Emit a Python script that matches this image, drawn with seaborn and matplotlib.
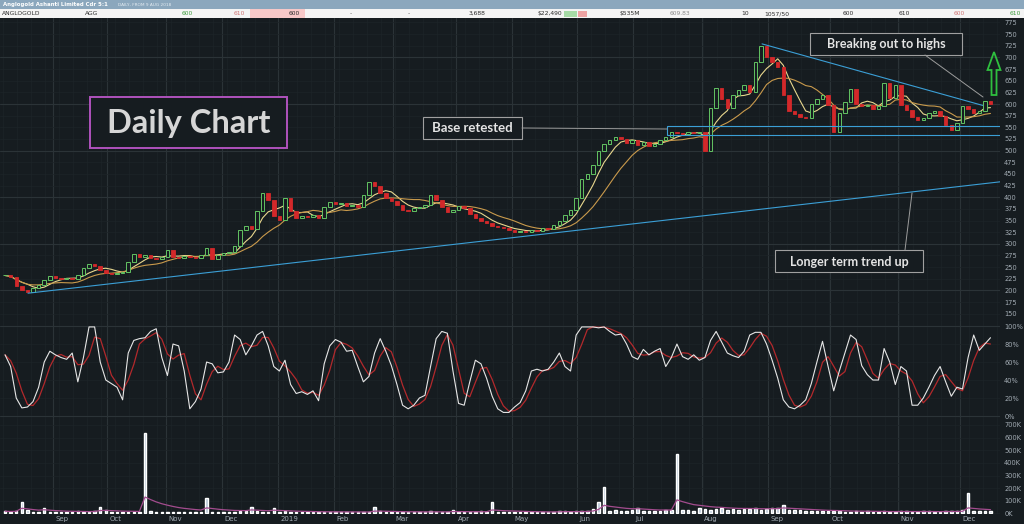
import numpy as np
import pandas as pd
import matplotlib
matplotlib.use("Agg")
import matplotlib.pyplot as plt
import seaborn as sns
from matplotlib.patches import Rectangle, Polygon
from matplotlib.lines import Line2D

# AGG (Anglogold Ashanti CDI), one value per 2 traded days from 9 Aug 2018
close = [232, 228, 210, 200, 196, 205, 212, 222, 230, 226,
         224, 227, 224, 232, 248, 256, 252, 244, 238, 236,
         238, 240, 262, 278, 272, 276, 270, 268, 272, 286,
         272, 270, 274, 272, 270, 276, 292, 268, 276, 280,
         282, 296, 330, 338, 332, 370, 408, 395, 360, 352,
         398, 370, 356, 360, 358, 362, 356, 378, 390, 386,
         388, 382, 384, 380, 405, 432, 425, 410, 398, 392,
         384, 372, 370, 376, 380, 384, 404, 395, 378, 368,
         372, 382, 376, 365, 355, 350, 345, 338, 336, 334,
         330, 326, 328, 325, 330, 328, 334, 332, 340, 348,
         362, 372, 398, 440, 450, 470, 500, 515, 522, 530,
         525, 516, 522, 512, 518, 510, 515, 522, 530, 540,
         538, 535, 540, 538, 540, 500, 592, 635, 610, 592,
         620, 630, 640, 625, 690, 725, 700, 690, 680, 620,
         585, 578, 572, 570, 600, 610, 620, 598, 540, 580,
         605, 632, 600, 595, 598, 590, 596, 645, 612, 640,
         598, 588, 572, 565, 570, 580, 585, 575, 555, 545,
         560, 596, 590, 580, 585, 606, 600]

# slow stochastic %K (white line), percent
stoch_k = [68, 55, 20, 9, 10, 16, 32, 60, 72, 68,
           65, 63, 70, 38, 65, 99, 99, 60, 40, 36,
           32, 18, 70, 84, 86, 87, 94, 97, 65, 45,
           80, 78, 50, 8, 16, 30, 60, 58, 48, 49,
           60, 90, 85, 68, 78, 90, 94, 78, 55, 50,
           62, 35, 25, 27, 24, 28, 17, 58, 78, 85,
           82, 72, 73, 55, 38, 44, 70, 86, 72, 56,
           35, 12, 8, 12, 20, 23, 55, 86, 94, 92,
           50, 14, 12, 38, 62, 58, 42, 22, 8, 4,
           4, 10, 15, 28, 50, 52, 50, 52, 60, 70,
           55, 50, 90, 99, 99, 99, 98, 99, 94, 90,
           91, 80, 66, 63, 74, 68, 72, 75, 55, 65,
           80, 66, 63, 68, 62, 65, 84, 94, 82, 70,
           67, 65, 72, 90, 93, 93, 80, 62, 42, 18,
           10, 8, 12, 18, 36, 60, 83, 55, 28, 50,
           70, 90, 85, 56, 46, 40, 40, 75, 60, 35,
           55, 50, 12, 12, 20, 32, 45, 55, 38, 22,
           32, 30, 65, 90, 73, 80, 87]

# volume in thousands
volume_k = [18, 14, 20, 90, 25, 15, 12, 40, 14, 10,
            12, 10, 14, 16, 12, 10, 20, 55, 30, 14,
            12, 10, 15, 12, 14, 640, 18, 10, 12, 15,
            10, 8, 12, 14, 10, 12, 120, 15, 12, 10,
            14, 12, 18, 20, 55, 16, 14, 12, 45, 14,
            16, 12, 10, 14, 12, 10, 8, 10, 12, 14,
            10, 12, 8, 10, 12, 14, 50, 18, 12, 10,
            8, 10, 12, 14, 12, 10, 16, 12, 14, 10,
            30, 14, 12, 10, 12, 16, 14, 90, 12, 10,
            14, 12, 10, 8, 12, 10, 8, 10, 12, 18,
            20, 14, 16, 20, 18, 35, 90, 210, 20, 25,
            22, 18, 24, 40, 22, 16, 20, 18, 30, 24,
            470, 30, 26, 20, 40, 35, 30, 34, 40, 28,
            32, 30, 38, 36, 40, 30, 36, 42, 40, 70,
            30, 24, 26, 20, 18, 22, 18, 16, 20, 18,
            14, 12, 16, 12, 18, 14, 12, 16, 14, 12,
            22, 16, 12, 14, 18, 16, 14, 12, 20, 16,
            18, 24, 165, 20, 18, 22, 16]

# month starts, in bar units (the CDI does not trade every day)
month_labels = ["Sep", "Oct", "Nov", "Dec", "2019", "Feb", "Mar", "Apr",
                "May", "Jun", "Jul", "Aug", "Sep", "Oct", "Nov", "Dec"]
month_pos = [8.6, 18.2, 28.8, 38.8, 48.8, 58.8, 69.3, 80.5,
             90.5, 102.1, 112.1, 124.5, 136.3, 147.3, 159.5, 170.5]
price_ticks = list(range(150, 776, 25))
stoch_ticks = [0, 20, 40, 60, 80, 100]
vol_ticks = [0, 100, 200, 300, 400, 500, 600, 700]

BG = "#161c20"
GRID_MAJ = "#2b3337"
GRID_MIN = "#1d2428"
LBL = "#a3acb4"
BLUE = "#3b9fd6"

sns.set_theme(style="dark", rc={"axes.facecolor": BG, "figure.facecolor": BG,
                                "axes.edgecolor": BG, "text.color": "#e0e0e0"})
plt.rcParams["font.family"] = ["DejaVu Sans"]

W, H = 1024, 524
fx = lambda x: x / W
fy = lambda y: 1 - y / H

fig = plt.figure(figsize=(10.24, 5.24), dpi=100)
def panel(top, bottom):
    return fig.add_axes([0, 1 - bottom / H, 1000 / W, (bottom - top) / H])
ax_p = panel(17, 320)
ax_s = panel(320, 418)
ax_v = panel(418, 514)

n = len(close)
xs = np.arange(n)
week_pos = np.arange(-0.4, 178, 2.5)

for ax in (ax_p, ax_s, ax_v):
    ax.set_xlim(-0.9, 177.7)
    ax.set_xticks([])
    for s in ax.spines.values():
        s.set_visible(False)
    ax.yaxis.tick_right()
    ax.tick_params(axis="y", length=0, pad=3, labelsize=4.8, labelcolor=LBL)
    for p in week_pos:
        ax.axvline(p, color=GRID_MIN, lw=0.5, zorder=0)
    for p in month_pos:
        ax.axvline(p, color=GRID_MAJ, lw=0.8, zorder=0)

# price panel
ax_p.set_ylim(136.5, 786.7)
ax_p.set_yticks(price_ticks)
ax_p.set_yticklabels([str(t) for t in price_ticks])
for t in price_ticks:
    ax_p.axhline(t, color=GRID_MAJ if t % 100 == 0 else GRID_MIN,
                 lw=0.8 if t % 100 == 0 else 0.5, zorder=0)

c = np.array(close, float)
o = np.r_[c[0], c[:-1]]
up = c >= o
ax_p.bar(xs[up], (c - o)[up], bottom=o[up], width=0.62, facecolor=BG,
         edgecolor="#63c463", linewidth=0.7, zorder=3)
ax_p.bar(xs[~up], (c - o)[~up], bottom=o[~up], width=0.62, color="#d3282a",
         edgecolor="#d3282a", linewidth=0.6, zorder=3)

s = pd.Series(c)
sns.lineplot(x=xs, y=s.rolling(5, min_periods=1).mean().values, ax=ax_p,
             color="#e8d78e", lw=0.8, zorder=2)
sns.lineplot(x=xs, y=s.rolling(11, min_periods=1).mean().values, ax=ax_p,
             color="#c99a4c", lw=0.8, zorder=2)

# trend lines and base zone
ax_p.plot([4.1, 177.7], [194, 433], color=BLUE, lw=0.8, zorder=4)
ax_p.plot([135.2, 174.6], [729, 597], color=BLUE, lw=0.8, zorder=4)
ax_p.add_patch(Rectangle((118.2, 533), 59.6, 20, facecolor="none",
                         edgecolor=BLUE, lw=0.8, zorder=4))

# stochastic panel
ax_s.set_ylim(-2.2, 106.7)
ax_s.set_yticks(stoch_ticks)
ax_s.set_yticklabels([f"{t}%" for t in stoch_ticks])
for t in stoch_ticks:
    ax_s.axhline(t, color=GRID_MAJ if t in (0, 100) else GRID_MIN,
                 lw=0.8 if t in (0, 100) else 0.5, zorder=0)
k = pd.Series(stoch_k, dtype=float)
sns.lineplot(x=xs, y=k.rolling(3, min_periods=1).mean().values, ax=ax_s,
             color="#b3292c", lw=0.9)
sns.lineplot(x=xs, y=k.values, ax=ax_s, color="#e6e6e6", lw=0.8)

# volume panel
ax_v.set_ylim(-4, 755)
ax_v.set_yticks(vol_ticks)
ax_v.set_yticklabels([f"{t}K" for t in vol_ticks])
for t in vol_ticks:
    ax_v.axhline(t, color=GRID_MIN, lw=0.5, zorder=0)
ax_v.bar(xs, volume_k, width=0.45, color="#b9c8d8", zorder=3)
sns.lineplot(x=xs, y=pd.Series(volume_k, dtype=float).ewm(span=10).mean().values,
             ax=ax_v, color="#a34c8e", lw=0.9, zorder=4)
for p, lab in zip(month_pos, month_labels):
    ax_v.text(p + 0.4, -0.052, lab, transform=ax_v.get_xaxis_transform(),
              ha="left", va="center", fontsize=5, color=LBL)
for ax in (ax_p, ax_s, ax_v):
    ax.set_xlabel("")
    ax.set_ylabel("")

# header strip
fig.add_artist(Rectangle((0, fy(9)), 1, 9 / H, transform=fig.transFigure,
                         facecolor="#8ba7bd", edgecolor="none"))
fig.add_artist(Rectangle((0, fy(18)), 1, 9 / H, transform=fig.transFigure,
                         facecolor="#f4f4f4", edgecolor="none"))
fig.add_artist(Rectangle((fx(250), fy(18)), 55 / W, 9 / H, transform=fig.transFigure,
                         facecolor="#f7c8c8", edgecolor="none"))
fig.add_artist(Rectangle((fx(564), fy(16.5)), 13 / W, 6 / H, transform=fig.transFigure,
                         facecolor="#a6dba6", edgecolor="none"))
fig.add_artist(Rectangle((fx(578), fy(16.5)), 9 / W, 6 / H, transform=fig.transFigure,
                         facecolor="#eea3a3", edgecolor="none"))
fig.text(fx(3), fy(4.5), "Anglogold Ashanti Limited Cdr 5:1", fontsize=3.9,
         weight="bold", color="white", va="center")
fig.text(fx(118), fy(4.8), "DAILY, FROM 9 AUG 2018", fontsize=3.1,
         color="#e4ecf2", va="center")
row = [(2, "ANGLOGOLD", "left", "#2a2a2a"), (85, "AGG", "left", "#2a2a2a"),
       (193, "600", "right", "#3c9c3c"), (245, "610", "right", "#d07474"),
       (300, "600", "right", "#2a2a2a"), (351, "-", "center", "#555555"),
       (409, "-", "center", "#555555"), (485, "3,688", "right", "#2a2a2a"),
       (562, "$22,490", "right", "#2a2a2a"), (640, "$535M", "right", "#2a2a2a"),
       (690, "609.83", "right", "#8a8a8a"), (749, "10", "right", "#2a2a2a"),
       (789, "1057/50", "right", "#2a2a2a"), (854, "600", "right", "#2a2a2a"),
       (910, "610", "right", "#2a2a2a"), (965, "600", "right", "#d07474"),
       (1021, "610", "right", "#3c9c3c")]
for x, txt, ha, col in row:
    fig.text(fx(x), fy(13.5), txt, fontsize=4.3, ha=ha, va="center", color=col)

# annotations
ANN = ["Lato", "DejaVu Sans"]
def note(x0, y0, x1, y1, text, size, edge, lw, color="#e4e4e4"):
    fig.add_artist(Rectangle((fx(x0), fy(y1)), (x1 - x0) / W, (y1 - y0) / H,
                             transform=fig.transFigure, facecolor=BG,
                             edgecolor=edge, lw=lw))
    fig.text(fx((x0 + x1) / 2), fy((y0 + y1) / 2 + 0.5), text, ha="center", va="center",
             fontsize=size, weight="bold", color=color, family=ANN)

def leader(x0, y0, x1, y1):
    fig.add_artist(Line2D([fx(x0), fx(x1)], [fy(y0), fy(y1)],
                          transform=fig.transFigure, color="#9c9c9c", lw=0.7))

note(90, 97, 287, 148, "Daily Chart", 23.5, "#b052bd", 1.4, color="#d6d6d6")
leader(522, 128, 667, 129)
note(423, 117, 522, 139, "Base retested", 9.5, "#a0a0a0", 0.8)
leader(925, 55, 983, 97)
note(810, 33, 962, 55, "Breaking out to highs", 9, "#a0a0a0", 0.8)
leader(905, 250, 912, 193)
note(775, 250, 923, 272, "Longer term trend up", 9, "#a0a0a0", 0.8)

arrow = [(994, 52), (1000.5, 70), (996.5, 70), (996.5, 95),
         (991.5, 95), (991.5, 70), (987.5, 70)]
fig.add_artist(Polygon([(fx(a), fy(b)) for a, b in arrow], closed=True,
                       transform=fig.transFigure, fill=False,
                       edgecolor="#2fbf3f", lw=1.3))

fig.savefig("out.png", dpi=100, facecolor=BG)
